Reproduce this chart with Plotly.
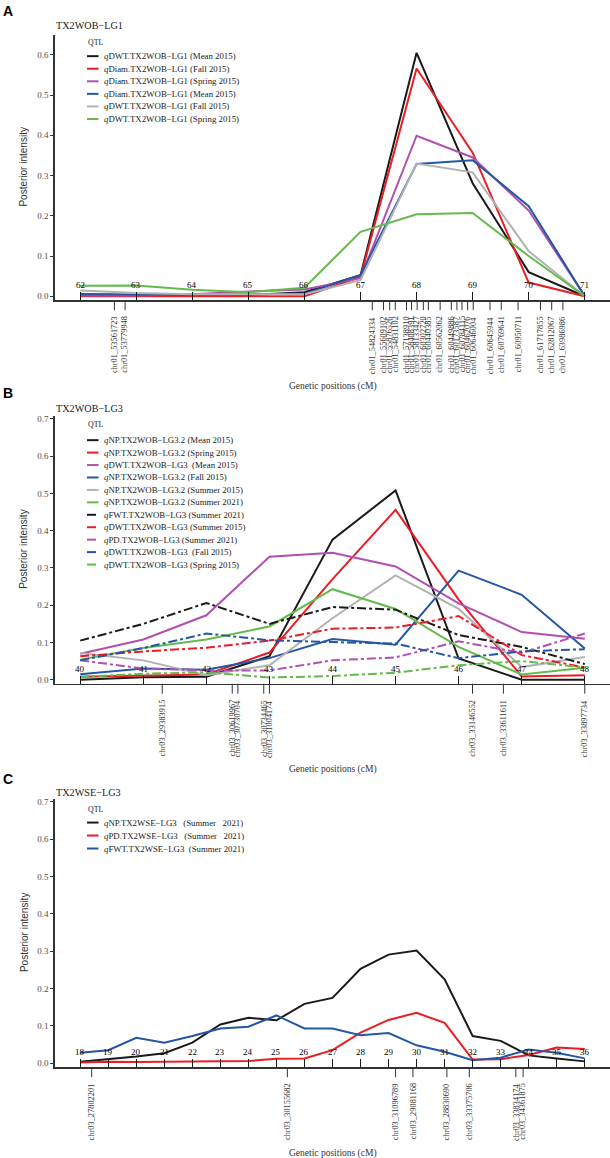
import plotly.graph_objects as go

W, H = 610, 1158
SERIF = "Liberation Serif, Times New Roman, serif"
SANS = "Liberation Sans, Arial, sans-serif"

BLACK = "#1a1a1a"
RED = "#ec1c24"
MAGENTA = "#b24fb1"
BLUE = "#2456a6"
GREY = "#b2b2b2"
GREEN = "#64ba4c"
AXIS = "#333333"

# ==== Panel A: TX2WOB-LG1 ====
a_cm = [62, 63, 64, 65, 66, 67, 68, 69, 70, 71]
a_dwt_mean = [0.005, 0.003, 0.003, 0.003, 0.010, 0.052, 0.605, 0.281, 0.060, 0.000]
a_diam_fall = [0.000, 0.000, 0.000, 0.000, 0.000, 0.048, 0.566, 0.357, 0.034, 0.000]
a_diam_spring = [0.002, 0.002, 0.005, 0.012, 0.017, 0.045, 0.399, 0.345, 0.213, 0.000]
a_diam_mean = [0.005, 0.004, 0.004, 0.005, 0.006, 0.053, 0.329, 0.338, 0.224, 0.000]
a_dwt_fall = [0.014, 0.008, 0.005, 0.005, 0.005, 0.040, 0.330, 0.308, 0.112, 0.000]
a_dwt_spring = [0.026, 0.027, 0.016, 0.010, 0.021, 0.160, 0.204, 0.207, 0.100, 0.000]
a_names = [
    "qDWT.TX2WOB−LG1 (Mean 2015)",
    "qDiam.TX2WOB−LG1 (Fall 2015)",
    "qDiam.TX2WOB−LG1 (Spring 2015)",
    "qDiam.TX2WOB−LG1 (Mean 2015)",
    "qDWT.TX2WOB−LG1 (Fall 2015)",
    "qDWT.TX2WOB−LG1 (Spring 2015)",
]
a_marker_cm = [62.61, 62.80, 67.21, 67.41, 67.52, 67.62, 67.82, 67.91, 68.01, 68.12,
               68.21, 68.42, 68.62, 68.72, 68.81, 68.91, 69.01, 69.31, 69.51, 69.81,
               70.21, 70.41, 70.61]
a_marker_names = [
    "chr01_53561723", "chr01_53779948", "chr01_54824334", "chr01_55609102",
    "chr01_55876526", "chr01_54831102", "chr01_57138910", "chr01_58408391",
    "chr01_58133427", "chr01_60302720", "chr01_60440385", "chr01_60562062",
    "chr01_60449886", "chr01_60173587", "chr01_60784115", "chr01_60462076",
    "chr01_60646004", "chr01_60645944", "chr01_60769641", "chr01_60950711",
    "chr01_61717855", "chr01_62812067", "chr01_63986986",
]

# ==== Panel B: TX2WOB-LG3 ====
b_cm = [40, 41, 42, 43, 44, 45, 46, 47, 48]
b_np_mean = [0.000, 0.007, 0.008, 0.063, 0.376, 0.508, 0.057, 0.000, 0.000]
b_np_spring = [0.008, 0.012, 0.014, 0.073, 0.270, 0.456, 0.215, 0.009, 0.012]
b_dwt_mean = [0.070, 0.108, 0.173, 0.330, 0.341, 0.304, 0.205, 0.128, 0.110]
b_np_fall = [0.015, 0.030, 0.027, 0.058, 0.109, 0.094, 0.293, 0.228, 0.084]
b_np_summer15 = [0.072, 0.052, 0.012, 0.039, 0.165, 0.280, 0.190, 0.034, 0.061]
b_np_summer21 = [0.054, 0.085, 0.108, 0.143, 0.243, 0.190, 0.088, 0.014, 0.032]
b_fwt_summer21 = [0.105, 0.150, 0.206, 0.150, 0.195, 0.188, 0.120, 0.088, 0.042]
b_dwt_summer15 = [0.063, 0.076, 0.086, 0.105, 0.137, 0.140, 0.171, 0.066, 0.033]
b_pd_summer21 = [0.052, 0.030, 0.025, 0.025, 0.052, 0.060, 0.103, 0.072, 0.124]
b_dwt_fall15 = [0.052, 0.085, 0.124, 0.106, 0.101, 0.097, 0.058, 0.076, 0.082]
b_dwt_spring15 = [0.008, 0.016, 0.020, 0.006, 0.010, 0.019, 0.039, 0.050, 0.033]
b_names = [
    "qNP.TX2WOB−LG3.2 (Mean 2015)",
    "qNP.TX2WOB−LG3.2 (Spring 2015)",
    "qDWT.TX2WOB−LG3\u00a0\u00a0(Mean 2015)",
    "qNP.TX2WOB−LG3.2 (Fall 2015)",
    "qNP.TX2WOB−LG3.2 (Summer 2015)",
    "qNP.TX2WOB−LG3.2 (Summer 2021)",
    "qFWT.TX2WOB−LG3 (Summer 2021)",
    "qDWT.TX2WOB−LG3 (Summer 2015)",
    "qPD.TX2WOB−LG3 (Summer 2021)",
    "qDWT.TX2WOB−LG3\u00a0\u00a0(Fall 2015)",
    "qDWT.TX2WOB−LG3 (Spring 2015)",
]
b_marker_cm = [41.30, 42.41, 42.50, 42.91, 43.00, 46.22, 46.71, 48.00]
b_marker_names = [
    "chr03_29383915", "chr03_30619967", "chr03_30730704", "chr03_30734465",
    "chr03_31004174", "chr03_33146552", "chr03_33611611", "chr03_33897734",
]

# ==== Panel C: TX2WSE-LG3 ====
c_cm = list(range(18, 37))
c_np = [0.004, 0.010, 0.018, 0.027, 0.055, 0.104, 0.122, 0.115, 0.159, 0.175,
        0.253, 0.291, 0.302, 0.225, 0.073, 0.060, 0.021, 0.013, 0.005]
c_pd = [0.002, 0.004, 0.003, 0.004, 0.003, 0.006, 0.006, 0.012, 0.013, 0.035,
        0.082, 0.116, 0.135, 0.108, 0.010, 0.011, 0.022, 0.042, 0.038]
c_fwt = [0.028, 0.035, 0.068, 0.055, 0.073, 0.093, 0.098, 0.128, 0.093, 0.093,
         0.075, 0.081, 0.048, 0.031, 0.008, 0.015, 0.037, 0.028, 0.013]
c_names = [
    "qNP.TX2WSE−LG3\u00a0\u00a0\u00a0(Summer\u00a0\u00a0\u00a02021)",
    "qPD.TX2WSE−LG3\u00a0\u00a0\u00a0(Summer\u00a0\u00a0\u00a02021)",
    "qFWT.TX2WSE−LG3\u00a0\u00a0(Summer 2021)",
]
c_marker_cm = [18.41, 25.39, 29.25, 29.87, 31.08, 31.88, 33.54, 33.80]
c_marker_names = [
    "chr03_27802201", "chr03_30155682", "chr03_31096789", "chr03_29081168",
    "chr03_28830690", "chr03_33375706", "chr03_33834174", "chr03_34361875",
]

panels = [
    dict(letter="A", title="TX2WOB−LG1", cm=a_cm,
         series=[a_dwt_mean, a_diam_fall, a_diam_spring, a_diam_mean, a_dwt_fall, a_dwt_spring],
         names=a_names,
         colors=[BLACK, RED, MAGENTA, BLUE, GREY, GREEN],
         dashes=["solid"] * 6,
         markers=a_marker_cm, marker_names=a_marker_names,
         top=33, bottom=299, yrange=[-0.0099, 0.6496], ymax=6,
         letter_y=9, title_y=24, leg_title_y=41, leg_y=54.3, leg_step=12.6),
    dict(letter="B", title="TX2WOB−LG3", cm=b_cm,
         series=[b_np_mean, b_np_spring, b_dwt_mean, b_np_fall, b_np_summer15, b_np_summer21,
                 b_fwt_summer21, b_dwt_summer15, b_pd_summer21, b_dwt_fall15, b_dwt_spring15],
         names=b_names,
         colors=[BLACK, RED, MAGENTA, BLUE, GREY, GREEN, BLACK, RED, MAGENTA, BLUE, GREEN],
         dashes=["solid"] * 6 + ["dashdot"] * 5,
         markers=b_marker_cm, marker_names=b_marker_names,
         top=415, bottom=683.5, yrange=[-0.0107, 0.708], ymax=7,
         letter_y=392, title_y=408, leg_title_y=423.3, leg_y=439.3, leg_step=12.47),
    dict(letter="C", title="TX2WSE−LG3", cm=c_cm,
         series=[c_np, c_pd, c_fwt],
         names=c_names,
         colors=[BLACK, RED, BLUE],
         dashes=["solid"] * 3,
         markers=c_marker_cm, marker_names=c_marker_names,
         top=799, bottom=1068, yrange=[-0.0107, 0.708], ymax=7,
         letter_y=779, title_y=793, leg_title_y=809.3, leg_y=822.7, leg_step=13),
]


def px(x):
    return x / W


def py(y):
    return 1 - y / H


def legend_label(name):
    # leading "q" of each QTL name is italic
    return "<i>q</i>" + name[1:]


fig = go.Figure()
annotations = []
shapes = []
layout = {}

for i, p in enumerate(panels, start=1):
    xa = "x" if i == 1 else f"x{i}"
    ya = "y" if i == 1 else f"y{i}"
    ys = f"y{i + 3}"  # strip around the axis line, in pixel units (0 = axis line)

    # QTL posterior curves
    for vals, name, color, dash in zip(p["series"], p["names"], p["colors"], p["dashes"]):
        fig.add_trace(go.Scatter(
            x=p["cm"], y=vals, mode="lines", name=name, showlegend=False,
            line=dict(color=color, width=2, dash=dash),
            xaxis=xa, yaxis=ya, hoverinfo="skip",
        ))

    # marker ticks below the axis
    mx, my = [], []
    for m in p["markers"]:
        mx += [m, m, None]
        my += [0, -10, None]
    fig.add_trace(go.Scatter(
        x=mx, y=my, mode="lines", showlegend=False, hoverinfo="skip",
        line=dict(color=AXIS, width=1), xaxis=xa, yaxis=ys,
    ))
    for m, label in zip(p["markers"], p["marker_names"]):
        annotations.append(dict(
            x=m, y=-15, xref=xa, yref=ys, text=label, showarrow=False,
            textangle=-90, xanchor="center", yanchor="top",
            font=dict(family=SERIF, size=8.4, color=AXIS), borderpad=0,
        ))

    # cM numbers just above the axis line
    for c in p["cm"]:
        annotations.append(dict(
            x=c, y=15, xref=xa, yref=ys, text=str(c), showarrow=False,
            yanchor="middle", font=dict(family=SERIF, size=9, color="black"),
        ))

    annotations.append(dict(
        x=px(332.5), y=py(p["bottom"] + 86), xref="paper", yref="paper",
        text="Genetic positions (cM)",
        showarrow=False, yanchor="middle", font=dict(family=SERIF, size=9.5, color=AXIS),
    ))

    # panel letter, title, y title
    annotations.append(dict(
        x=px(1), y=py(p["letter_y"]), xref="paper", yref="paper", text="<b>%s</b>" % p["letter"],
        showarrow=False, xanchor="left", yanchor="middle",
        font=dict(family=SANS, size=14, color="black"),
    ))
    annotations.append(dict(
        x=px(54), y=py(p["title_y"]), xref="paper", yref="paper", text=p["title"],
        showarrow=False, xanchor="left", yanchor="middle",
        font=dict(family=SERIF, size=10.2, color=BLACK),
    ))
    annotations.append(dict(
        x=px(24), y=py((p["top"] + p["bottom"]) / 2), xref="paper", yref="paper",
        text="Posterior intensity", showarrow=False, textangle=-90,
        xanchor="center", yanchor="middle",
        font=dict(family=SANS, size=10, color=AXIS),
    ))

    # legend (drawn by hand so the rows stay as tight as in the original)
    annotations.append(dict(
        x=px(86), y=py(p["leg_title_y"]), xref="paper", yref="paper", text="QTL",
        showarrow=False, xanchor="left", yanchor="middle",
        font=dict(family=SERIF, size=7.8, color=BLACK),
    ))
    for k, (name, color, dash) in enumerate(zip(p["names"], p["colors"], p["dashes"])):
        yk = p["leg_y"] + k * p["leg_step"]
        shapes.append(dict(
            type="line", xref="paper", yref="paper",
            x0=px(87), x1=px(98.5), y0=py(yk), y1=py(yk),
            line=dict(color=color, width=2, dash=dash),
        ))
        annotations.append(dict(
            x=px(102), y=py(yk), xref="paper", yref="paper", text=legend_label(name),
            showarrow=False, xanchor="left", yanchor="middle",
            font=dict(family=SERIF, size=8.8, color=BLACK),
        ))

    # axes
    span = p["cm"][-1] - p["cm"][0]
    xr = [p["cm"][0] - 0.05 * span, p["cm"][-1] + 0.05 * span]
    layout["xaxis" if i == 1 else f"xaxis{i}"] = dict(
        domain=[px(55), 1], range=xr, anchor=ya,
        showline=True, linecolor=AXIS, linewidth=1.6,
        ticks="inside", ticklen=8, tickwidth=1, tickcolor=BLACK,
        tickvals=p["cm"], showticklabels=False,
        showgrid=False, zeroline=False, fixedrange=True,
    )
    layout["yaxis" if i == 1 else f"yaxis{i}"] = dict(
        domain=[py(p["bottom"]), py(p["top"])], range=p["yrange"], anchor=xa,
        showline=True, linecolor=AXIS, linewidth=1.6,
        ticks="outside", ticklen=3, tickwidth=1, tickcolor=AXIS,
        tickvals=[k / 10 for k in range(p["ymax"] + 1)], tickformat=".1f",
        tickfont=dict(family=SERIF, size=9, color="#4d4d4d"),
        showgrid=False, zeroline=False, fixedrange=True,
    )
    # invisible helper axis: 1 unit = 1 px, from 80 px below to 30 px above the axis line
    layout[f"yaxis{i + 3}"] = dict(
        domain=[py(p["bottom"] + 80), py(p["bottom"] - 30)], range=[-80, 30], anchor=xa,
        visible=False, fixedrange=True,
    )

fig.update_layout(
    width=W, height=H, autosize=False,
    margin=dict(l=0, r=0, t=0, b=0),
    paper_bgcolor="white", plot_bgcolor="rgba(0,0,0,0)",
    showlegend=False,
    annotations=annotations, shapes=shapes,
    **layout,
)

# the page body has a default 8px margin; drop it so the figure sits at (0, 0)
fig.write_html(
    "out.html",
    config={"displayModeBar": False, "staticPlot": True},
    post_script="document.body.style.margin='0px';",
)
